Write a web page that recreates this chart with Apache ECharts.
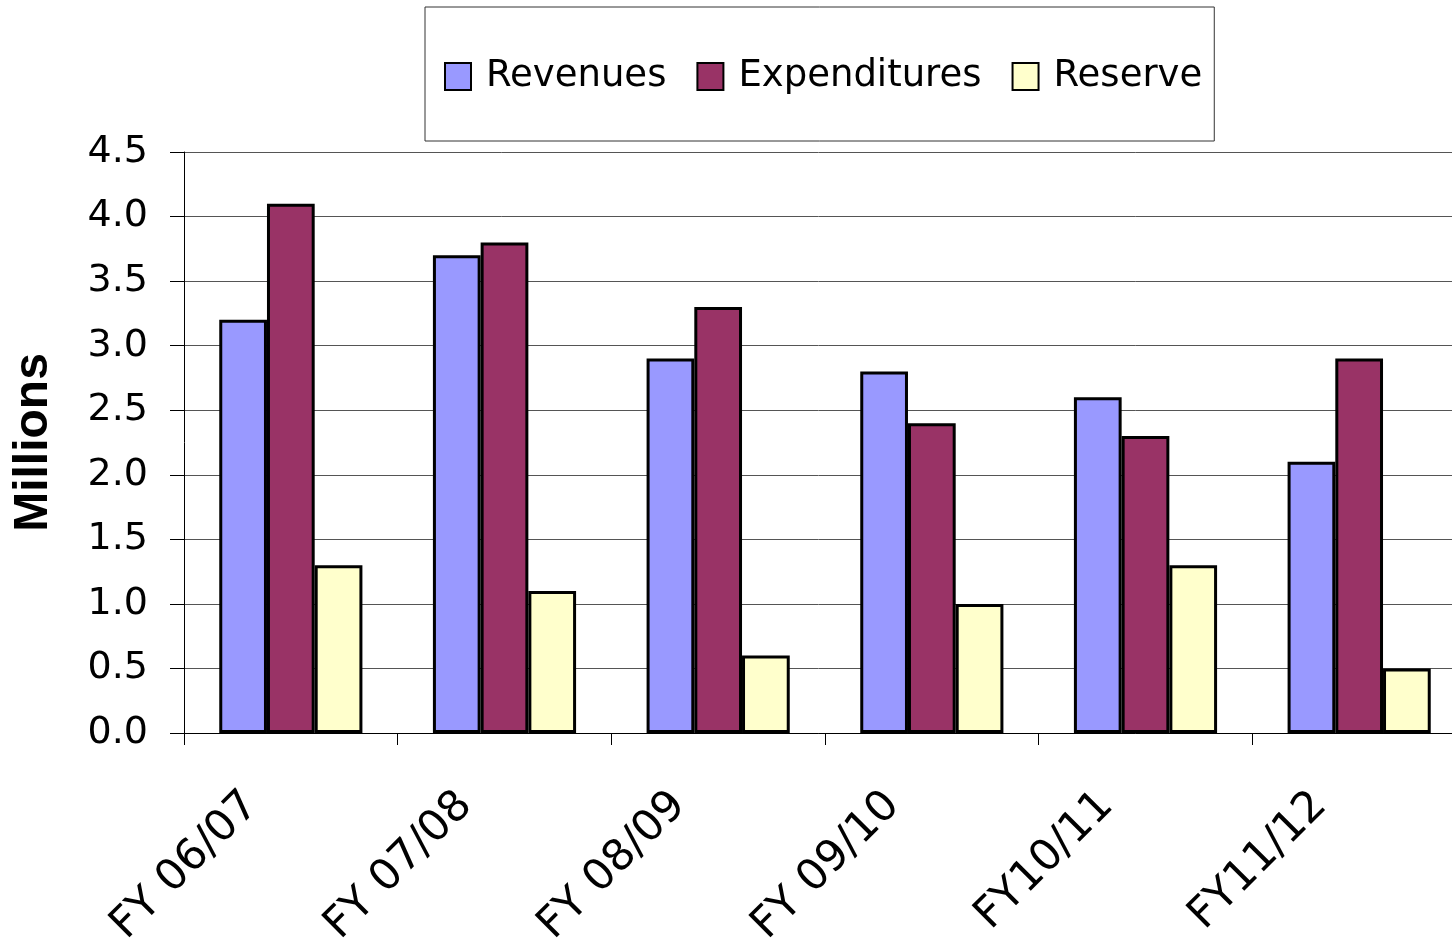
<!DOCTYPE html>
<html>
<head>
<meta charset="utf-8">
<script src="https://cdn.jsdelivr.net/npm/echarts@6/dist/echarts.min.js"></script>
<style>
	html, body { margin: 0; padding: 0; background: #fff; }
	#chart { width: 1452px; height: 951px; }
</style>
</head>
<body>
<div id="chart"></div>
<script>
// values, in millions
const categories = ['FY 06/07', 'FY 07/08', 'FY 08/09', 'FY 09/10', 'FY10/11', 'FY11/12'];
const revenues = [3.2, 3.7, 2.9, 2.8, 2.6, 2.1];
const expenditures = [4.1, 3.8, 3.3, 2.4, 2.3, 2.9];
const reserve = [1.3, 1.1, 0.6, 1.0, 1.3, 0.5];
const seriesNames = ['Revenues', 'Expenditures', 'Reserve'];
const seriesColors = ['#9999ff', '#993366', '#ffffcc'];

const myChart = echarts.init(document.getElementById('chart'));

const font = 'DejaVu Sans';

const makeBar = function (name, data, color) {
	return {
		name: name,
		type: 'bar',
		data: data,
		barGap: '0%',
		barCategoryGap: '33%',
		itemStyle: {
			color: color,
			borderColor: '#000',
			borderWidth: 3
		}
	};
};

const option = {
	backgroundColor: '#fff',
	animation: false,
	legend: {
		left: 425,
		top: 7,
		padding: [51, 12, 46, 19],
		icon: 'rect',
		itemWidth: 26,
		itemHeight: 27,
		itemGap: 30,
		borderColor: '#333',
		borderWidth: 1,
		textStyle: {
			fontFamily: font,
			fontSize: 37,
			color: '#000',
			padding: [0, 0, 0, 10]
		},
		data: seriesNames
	},
	grid: {
		left: 184,
		right: -14,
		top: 152,
		bottom: 218,
		outerBoundsMode: 'none',
		containLabel: false
	},
	xAxis: {
		type: 'category',
		data: categories,
		axisLine: { lineStyle: { color: '#000', width: 1 } },
		axisTick: { show: true, length: 12, lineStyle: { color: '#000' } },
		axisLabel: {
			rotate: 45,
			margin: 27,
			padding: [0, 55, 0, 0],
			fontFamily: font,
			fontSize: 43,
			color: '#000'
		}
	},
	yAxis: {
		type: 'value',
		min: 0,
		max: 4.5,
		interval: 0.5,
		name: 'Millions',
		nameLocation: 'middle',
		nameRotate: 90,
		nameGap: 126,
		nameTextStyle: {
			fontFamily: 'Liberation Sans',
			fontWeight: 'bold',
			fontSize: 48,
			color: '#000'
		},
		axisLine: { show: true, lineStyle: { color: '#000', width: 1 } },
		axisTick: { show: true, length: 14, lineStyle: { color: '#000' } },
		axisLabel: {
			margin: 36,
			fontFamily: font,
			fontSize: 38,
			color: '#000',
			formatter: function (v) { return v.toFixed(1); }
		},
		splitLine: { lineStyle: { color: '#555', width: 1 } }
	},
	series: [
		makeBar(seriesNames[0], revenues, seriesColors[0]),
		makeBar(seriesNames[1], expenditures, seriesColors[1]),
		makeBar(seriesNames[2], reserve, seriesColors[2])
	]
};

myChart.setOption(option);
</script>
</body>
</html>
